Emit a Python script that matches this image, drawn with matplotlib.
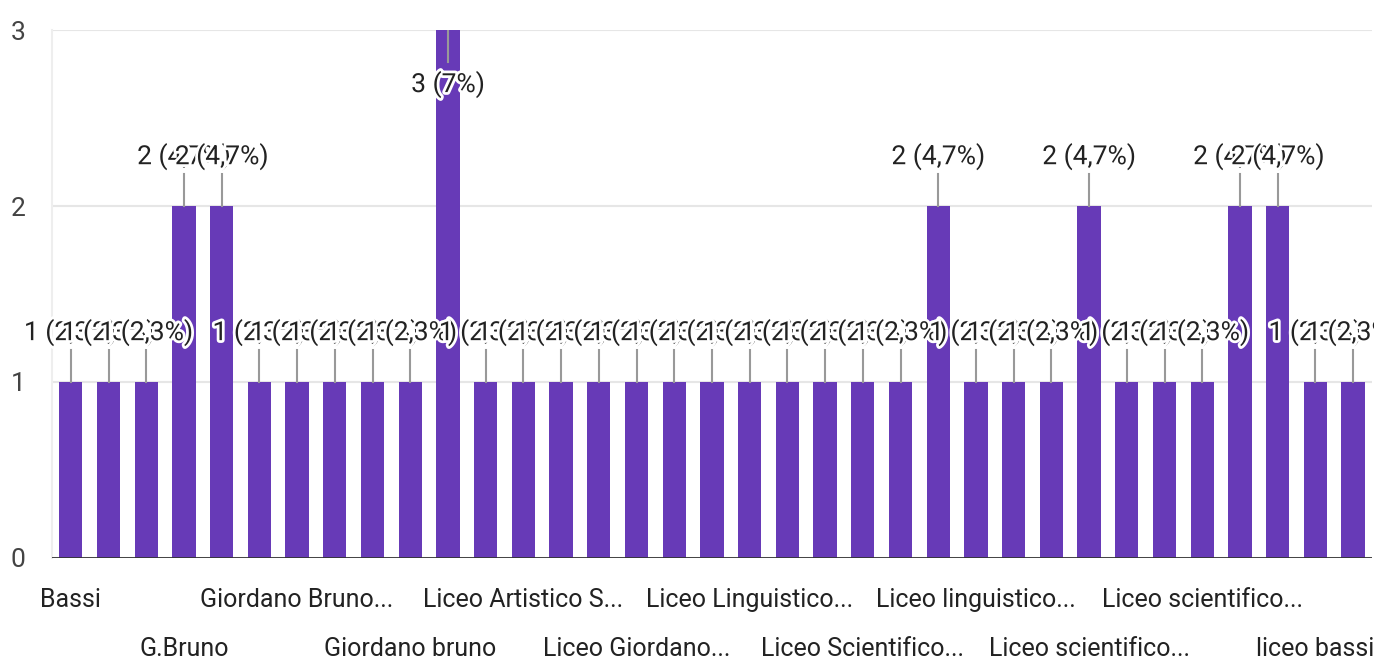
import matplotlib
matplotlib.use("Agg")
import matplotlib.pyplot as plt
import matplotlib.patheffects as pe
import numpy as np

plt.rcParams["font.family"] = ["Roboto", "DejaVu Sans"]

# answers per school (35 categories, alphabetical as in the form summary)
counts = [1, 1, 1, 2, 2, 1, 1, 1, 1, 1, 3, 1, 1, 1, 1, 1, 1, 1,
          1, 1, 1, 1, 1, 2, 1, 1, 1, 2, 1, 1, 1, 2, 2, 1, 1]
# only every third category name is shown on the axis
label_idx = [0, 3, 6, 9, 12, 15, 18, 21, 24, 27, 30, 33]
label_txt = ["Bassi", "G.Bruno", "Giordano Bruno...", "Giordano bruno",
             "Liceo Artistico S...", "Liceo Giordano...", "Liceo Linguistico...",
             "Liceo Scientifico...", "Liceo linguistico...", "Liceo scientifico...",
             "Liceo scientifico...", "liceo bassi"]
yticks = [0, 1, 2, 3]

purple = "#673ab7"
total = sum(counts)

fig = plt.figure(figsize=(13.74, 6.61), dpi=100)
ax = fig.add_axes([0.0378, 0.156, 0.9607, 0.7985])

x = np.arange(len(counts))
ax.bar(x, counts, width=0.62, color=purple, zorder=2)

ax.set_xlim(-0.5, len(counts) - 0.5)
ax.set_ylim(0, 3)
ax.set_yticks(yticks)
ax.set_yticklabels([str(t) for t in yticks], fontsize=19, color="#444444")
ax.tick_params(axis="y", length=0, pad=19)
ax.set_xticks([])
ax.grid(axis="y", color="#e6e6e6", linewidth=1.5, zorder=0)
for s in ["top", "right", "bottom"]:
    ax.spines[s].set_visible(False)
ax.spines["left"].set_color("#eeeeee")
ax.spines["left"].set_linewidth(1.5)
ax.axhline(0, color="#333333", linewidth=2, zorder=3)

# category labels in two staggered rows
for k, (i, t) in enumerate(zip(label_idx, label_txt)):
    yy = -0.24 if k % 2 == 0 else -0.52
    ax.text(i, yy, t, ha="center", va="center", fontsize=18,
            color="#222222", clip_on=False)

# value labels with leader lines
halo = [pe.withStroke(linewidth=4, foreground="white")]
for i, v in enumerate(counts):
    pct = f"{100 * v / total:.1f}".replace(".", ",").replace(",0", "")
    lab = f"{v} ({pct}%)"
    if v >= 3:
        ax.plot([i, i], [v, v - 0.18], color="#999999", lw=1.5, zorder=4)
        ty = v - 0.31
    else:
        ax.plot([i, i], [v, v + 0.18], color="#999999", lw=1.5, zorder=4)
        ty = v + 0.28
    ax.text(i, ty, lab, ha="center", va="center", fontsize=19,
            color="#222222", path_effects=halo, zorder=5 + i * 0.01,
            clip_on=False)

fig.savefig("out.png", dpi=100)
